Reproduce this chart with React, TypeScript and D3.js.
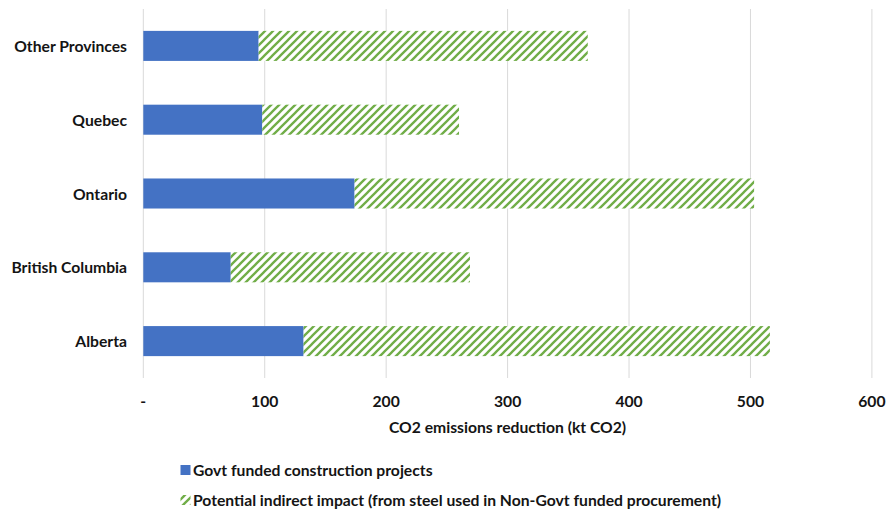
import React from "react";
import * as d3 from "d3";

const categories = ["Other Provinces", "Quebec", "Ontario", "British Columbia", "Alberta"];
const govtFunded = [95, 98, 174, 72, 132];
const indirectImpact = [271, 162, 329, 197, 384];
const xTicks = [0, 100, 200, 300, 400, 500, 600];
const xTickLabels = ["-", "100", "200", "300", "400", "500", "600"];
const seriesNames = [
  "Govt funded construction projects",
  "Potential indirect impact (from steel used in Non-Govt funded procurement)",
];
const axisTitle = "CO2 emissions reduction (kt CO2)";

const W = 886;
const H = 511;
const FONT = "Lato, 'Open Sans', sans-serif";
const FS = 15.7;
const TEXT = "#141414";
const BLUE = "#4472C4";
const GREEN = "#70AD47";

export default function App() {
  const x = d3.scaleLinear().domain([0, 600]).range([143.3, 871.9]);
  const y = d3
    .scaleBand<string>()
    .domain(categories)
    .range([9, 378])
    .paddingInner(0.593)
    .paddingOuter(0.2965);
  const bw = y.bandwidth();

  return (
    <div style={{ position: "fixed", left: 0, top: 0, width: W, height: H, background: "#fff" }}>
      <svg width={W} height={H} style={{ display: "block" }} fontFamily={FONT}>
        <defs>
          <pattern id="hatch" width={8} height={8} patternUnits="userSpaceOnUse">
            <rect width={8} height={8} fill="#fff" />
            <path
              d="M-2,2 L2,-2 M0,8 L8,0 M6,10 L10,6"
              stroke={GREEN}
              strokeWidth={2.3}
            />
          </pattern>
        </defs>
        <rect width={W} height={H} fill="#fff" />
        {xTicks.map((t) => (
          <line key={t} x1={x(t)} x2={x(t)} y1={9} y2={378} stroke="#d9d9d9" strokeWidth={1} />
        ))}
        {categories.map((c, i) => {
          const y0 = y(c)!;
          return (
            <g key={c}>
              <rect x={x(0)} y={y0} width={x(govtFunded[i]) - x(0)} height={bw} fill={BLUE} />
              <rect
                x={x(govtFunded[i])}
                y={y0}
                width={x(govtFunded[i] + indirectImpact[i]) - x(govtFunded[i])}
                height={bw}
                fill="url(#hatch)"
              />
              <text
                x={127}
                y={y0 + bw / 2}
                textAnchor="end"
                dominantBaseline="central"
                fontSize={FS}
                fontWeight={700}
                fill={TEXT}
              >
                {c}
              </text>
            </g>
          );
        })}
        {xTicks.map((t, i) => (
          <text
            key={t}
            x={x(t)}
            y={401}
            textAnchor="middle"
            dominantBaseline="central"
            fontSize={FS}
            fontWeight={700}
            fill={TEXT}
          >
            {xTickLabels[i]}
          </text>
        ))}
        <text
          x={(x(0) + x(600)) / 2}
          y={427}
          textAnchor="middle"
          dominantBaseline="central"
          fontSize={FS}
          fontWeight={700}
          fill={TEXT}
        >
          {axisTitle}
        </text>
        <rect x={180.5} y={465} width={10} height={10} fill={BLUE} />
        <text x={193} y={470} dominantBaseline="central" fontSize={FS} fontWeight={700} fill={TEXT}>
          {seriesNames[0]}
        </text>
        <rect x={180.5} y={495} width={10} height={10} fill="url(#hatch)" />
        <text x={193} y={500} dominantBaseline="central" fontSize={FS} fontWeight={700} fill={TEXT}>
          {seriesNames[1]}
        </text>
      </svg>
    </div>
  );
}
